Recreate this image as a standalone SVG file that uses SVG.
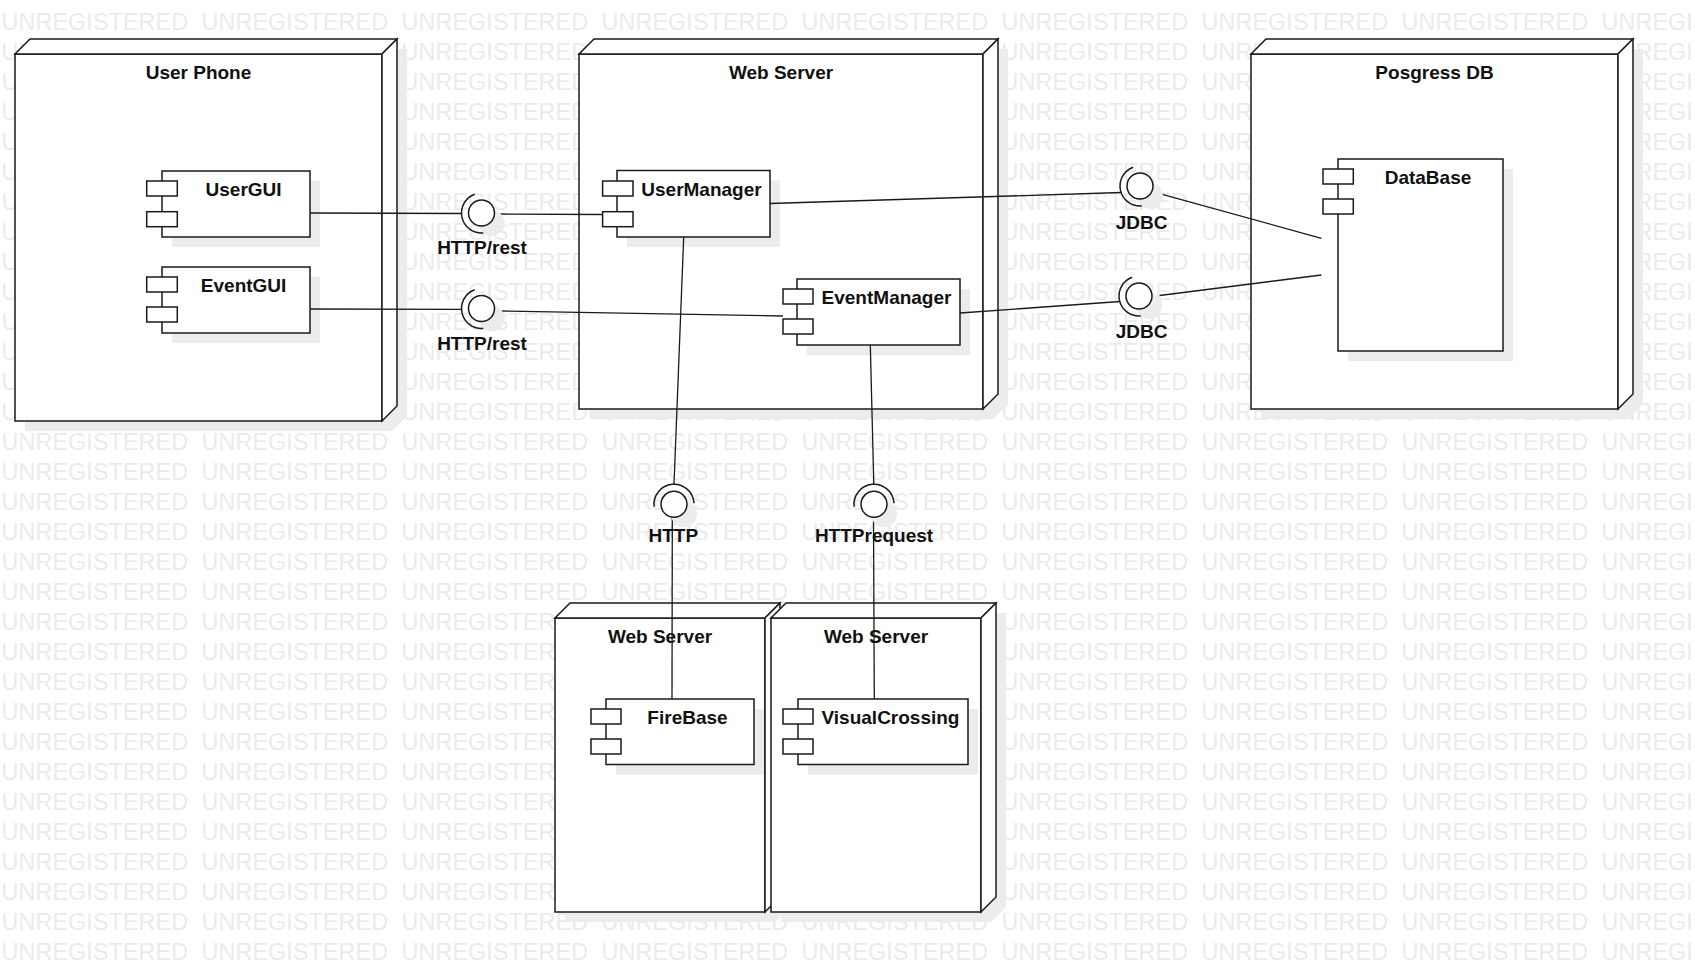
<svg xmlns="http://www.w3.org/2000/svg" width="1695" height="973" viewBox="0 0 1695 973">
<defs>
<pattern id="wm" patternUnits="userSpaceOnUse" x="0" y="0" width="200" height="30">
<text x="1.5" y="29.8" font-family="'Liberation Sans', Arial, sans-serif" font-size="23.5" fill="#eaeaea">UNREGISTERED</text>
</pattern>
</defs>
<style>
.nf{fill:#ffffff;stroke:#1a1a1a;stroke-width:1.5;stroke-linejoin:miter}
.sh{fill:#ececec;stroke:none}
.cf{fill:#ffffff;stroke:#1a1a1a;stroke-width:1.5}
.t{font-family:'Liberation Sans',Arial,sans-serif;font-size:19px;font-weight:bold;fill:#111111;text-anchor:middle}
.ln{fill:none;stroke:#1a1a1a;stroke-width:1.3}
.ball{fill:#ffffff;stroke:#1a1a1a;stroke-width:1.5}
.sock{fill:none;stroke:#1a1a1a;stroke-width:1.5}
</style>
<rect x="0" y="0" width="1695" height="973" fill="#ffffff"/>
<rect x="0" y="0" width="1695" height="973" fill="url(#wm)"/>

<g id="node-user-phone">
<polygon class="sh" points="25,64 40,49 407,49 407,416 392,431 25,431"/>
<rect class="nf" x="15" y="54" width="367" height="367"/>
<polygon class="nf" points="15,54 30,39 397,39 382,54"/>
<polygon class="nf" points="382,54 397,39 397,406 382,421"/>
<text class="t" x="198.5" y="79">User Phone</text>
</g>

<g id="node-web-server">
<polygon class="sh" points="589,64 604,49 1008,49 1008,404 993,419 589,419"/>
<rect class="nf" x="579" y="54" width="404" height="355"/>
<polygon class="nf" points="579,54 594,39 998,39 983,54"/>
<polygon class="nf" points="983,54 998,39 998,394 983,409"/>
<text class="t" x="781" y="79">Web Server</text>
</g>

<g id="node-posgress-db">
<polygon class="sh" points="1261,64 1276,49 1643,49 1643,404 1628,419 1261,419"/>
<rect class="nf" x="1251" y="54" width="367" height="355"/>
<polygon class="nf" points="1251,54 1266,39 1633,39 1618,54"/>
<polygon class="nf" points="1618,54 1633,39 1633,394 1618,409"/>
<text class="t" x="1434.5" y="79">Posgress DB</text>
</g>

<g id="node-web-server-firebase">
<polygon class="sh" points="565,628 580,613 790,613 790,907 775,922 565,922"/>
<rect class="nf" x="555" y="618" width="210" height="294"/>
<polygon class="nf" points="555,618 570,603 780,603 765,618"/>
<polygon class="nf" points="765,618 780,603 780,897 765,912"/>
<text class="t" x="660" y="643">Web Server</text>
</g>

<g id="node-web-server-visualcrossing">
<polygon class="sh" points="781,628 796,613 1006,613 1006,907 991,922 781,922"/>
<rect class="nf" x="771" y="618" width="210" height="294"/>
<polygon class="nf" points="771,618 786,603 996,603 981,618"/>
<polygon class="nf" points="981,618 996,603 996,897 981,912"/>
<text class="t" x="876" y="643">Web Server</text>
</g>

<g id="comp-usergui">
<rect class="sh" x="172" y="181" width="148" height="66"/>
<rect class="cf" x="162" y="171" width="148" height="66"/>
<rect class="cf" x="146.7" y="181" width="30.6" height="15"/>
<rect class="cf" x="146.7" y="211.7" width="30.6" height="15"/>
<text class="t" x="243.6" y="196">UserGUI</text>
</g>

<g id="comp-eventgui">
<rect class="sh" x="172" y="277" width="148" height="66"/>
<rect class="cf" x="162" y="267" width="148" height="66"/>
<rect class="cf" x="146.7" y="277" width="30.6" height="15"/>
<rect class="cf" x="146.7" y="307" width="30.6" height="15"/>
<text class="t" x="243.6" y="292">EventGUI</text>
</g>

<g id="comp-usermanager">
<rect class="sh" x="627" y="180.5" width="153" height="66.5"/>
<rect class="cf" x="617" y="170.5" width="153" height="66.5"/>
<rect class="cf" x="602.6" y="181" width="30.4" height="15"/>
<rect class="cf" x="602.6" y="211.7" width="30.4" height="15"/>
<text class="t" x="701.5" y="196">UserManager</text>
</g>

<g id="comp-eventmanager">
<rect class="sh" x="807" y="289" width="163" height="66"/>
<rect class="cf" x="797" y="279" width="163" height="66"/>
<rect class="cf" x="783" y="289" width="30" height="15"/>
<rect class="cf" x="783" y="319" width="30" height="15"/>
<text class="t" x="886.5" y="304">EventManager</text>
</g>

<g id="comp-database">
<rect class="sh" x="1348" y="169" width="165" height="192"/>
<rect class="cf" x="1338" y="159" width="165" height="192"/>
<rect class="cf" x="1323" y="169" width="30.3" height="15"/>
<rect class="cf" x="1323" y="199" width="30.3" height="15"/>
<text class="t" x="1428" y="183.5">DataBase</text>
</g>

<g id="comp-firebase">
<rect class="sh" x="616" y="709" width="148" height="65.5"/>
<rect class="cf" x="606" y="699" width="148" height="65.5"/>
<rect class="cf" x="591" y="709" width="30" height="15"/>
<rect class="cf" x="591" y="739" width="30" height="15"/>
<text class="t" x="687.5" y="724">FireBase</text>
</g>

<g id="comp-visualcrossing">
<rect class="sh" x="808" y="709" width="170" height="65.5"/>
<rect class="cf" x="798" y="699" width="170" height="65.5"/>
<rect class="cf" x="783" y="709" width="30" height="15"/>
<rect class="cf" x="783" y="739" width="30" height="15"/>
<text class="t" x="890.5" y="724">VisualCrossing</text>
</g>

<g id="connectors">
<line class="ln" x1="310" y1="213" x2="461.5" y2="213.5"/>
<line class="ln" x1="499.3" y1="214" x2="602.6" y2="214.5"/>
<line class="ln" x1="310" y1="309" x2="461.5" y2="309.3"/>
<line class="ln" x1="499.3" y1="311" x2="783" y2="316"/>
<line class="ln" x1="770" y1="203.5" x2="1121.2" y2="192.5"/>
<line class="ln" x1="1159.5" y1="193.6" x2="1321.4" y2="238.3"/>
<line class="ln" x1="960" y1="313" x2="1120" y2="301.5"/>
<line class="ln" x1="1159.6" y1="295.5" x2="1321.4" y2="275"/>
<line class="ln" x1="683.7" y1="237" x2="674" y2="484.3"/>
<line class="ln" x1="672.3" y1="517.5" x2="672" y2="699"/>
<line class="ln" x1="870.3" y1="345" x2="873.8" y2="484.3"/>
<line class="ln" x1="873.5" y1="517.5" x2="874.3" y2="699"/>
</g>

<g id="if-http-rest-1">
<circle class="sh" cx="491.5" cy="223" r="13"/>
<circle class="ball" cx="481.5" cy="213" r="13"/>
<path class="sock" d="M 474.66 194.21 A 20 20 0 0 0 483.24 232.92"/>
<text class="t" x="482" y="254">HTTP/rest</text>
</g>

<g id="if-http-rest-2">
<circle class="sh" cx="491.5" cy="318.5" r="13"/>
<circle class="ball" cx="481.5" cy="308.5" r="13"/>
<path class="sock" d="M 474.66 289.71 A 20 20 0 0 0 483.24 328.42"/>
<text class="t" x="482" y="350">HTTP/rest</text>
</g>

<g id="if-jdbc-1">
<circle class="sh" cx="1150" cy="196" r="13"/>
<circle class="ball" cx="1140" cy="186" r="13"/>
<path class="sock" d="M 1133.16 167.21 A 20 20 0 0 0 1141.74 205.92"/>
<text class="t" x="1141.5" y="229.3">JDBC</text>
</g>

<g id="if-jdbc-2">
<circle class="sh" cx="1149" cy="306" r="13"/>
<circle class="ball" cx="1139" cy="296" r="13"/>
<path class="sock" d="M 1132.16 277.21 A 20 20 0 0 0 1140.74 315.92"/>
<text class="t" x="1141.5" y="337.5">JDBC</text>
</g>

<g id="if-http">
<circle class="sh" cx="684" cy="514.3" r="13"/>
<circle class="ball" cx="674" cy="504.3" r="13"/>
<path class="sock" d="M 654.15 506.74 A 20 20 0 1 1 693.97 503.25"/>
<text class="t" x="673.3" y="541.7">HTTP</text>
</g>

<g id="if-httprequest">
<circle class="sh" cx="884" cy="514.3" r="13"/>
<circle class="ball" cx="874" cy="504.3" r="13"/>
<path class="sock" d="M 854.15 506.74 A 20 20 0 1 1 893.97 503.25"/>
<text class="t" x="874" y="541.7">HTTPrequest</text>
</g>
</svg>
